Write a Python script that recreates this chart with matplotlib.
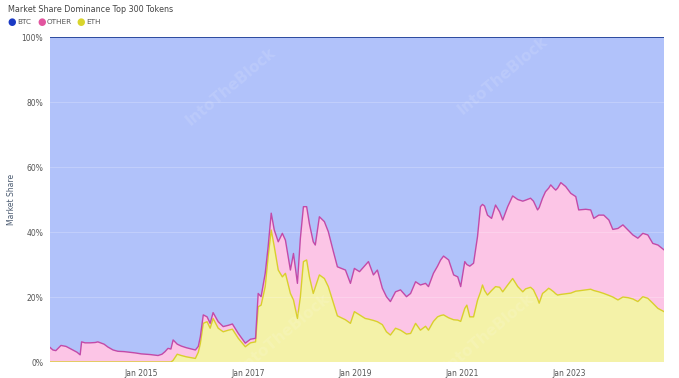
import pandas as pd
import matplotlib
matplotlib.use('Agg')
import matplotlib.pyplot as plt
import matplotlib.dates as mdates

# dates of the read points
dates = [
    '2013-04-17', '2013-05-07', '2013-05-27', '2013-07-01', '2013-08-05', '2013-09-15',
    '2013-10-19', '2013-11-09', '2013-11-19', '2013-12-13', '2014-01-16', '2014-02-20',
    '2014-03-10', '2014-04-21', '2014-05-18', '2014-06-22', '2014-07-25', '2014-09-05',
    '2014-10-16', '2014-11-20', '2015-01-01', '2015-03-01', '2015-04-25', '2015-05-22',
    '2015-06-12', '2015-07-02', '2015-07-22', '2015-08-06', '2015-09-03', '2015-10-01',
    '2015-11-04', '2016-01-05', '2016-01-25', '2016-02-08', '2016-02-28', '2016-03-25',
    '2016-04-15', '2016-05-05', '2016-06-09', '2016-07-13', '2016-08-17', '2016-09-14',
    '2016-10-24', '2016-12-11', '2017-01-15', '2017-02-19', '2017-03-09', '2017-03-29',
    '2017-04-26', '2017-05-16', '2017-06-06', '2017-06-27', '2017-07-24', '2017-08-21',
    '2017-09-11', '2017-10-15', '2017-11-05', '2017-12-02', '2017-12-22', '2018-01-12',
    '2018-02-03', '2018-02-22', '2018-03-20', '2018-04-03', '2018-05-01', '2018-06-04',
    '2018-07-01', '2018-08-05', '2018-09-01', '2018-09-29', '2018-10-26', '2018-11-29',
    '2018-12-26', '2019-01-30', '2019-03-10', '2019-04-01', '2019-05-05', '2019-06-01',
    '2019-07-05', '2019-08-02', '2019-08-29', '2019-10-03', '2019-11-06', '2019-12-17',
    '2020-01-14', '2020-02-17', '2020-03-21', '2020-04-25', '2020-05-15', '2020-06-18',
    '2020-07-16', '2020-08-06', '2020-08-26', '2020-09-30', '2020-11-03', '2020-12-01',
    '2020-12-21', '2021-01-18', '2021-02-01', '2021-02-21', '2021-03-19', '2021-04-15',
    '2021-05-05', '2021-05-19', '2021-06-02', '2021-06-22', '2021-07-20', '2021-08-16',
    '2021-09-13', '2021-10-04', '2021-11-07', '2021-12-11', '2022-01-15', '2022-02-18',
    '2022-03-09', '2022-04-12', '2022-05-02', '2022-05-30', '2022-06-10', '2022-07-03',
    '2022-07-23', '2022-08-14', '2022-08-28', '2022-09-17', '2022-10-01', '2022-10-14',
    '2022-11-05', '2022-12-08', '2023-01-12', '2023-02-15', '2023-03-07', '2023-04-24',
    '2023-05-28', '2023-06-18', '2023-07-22', '2023-08-25', '2023-09-29', '2023-10-26',
    '2023-11-30', '2024-01-03', '2024-02-07', '2024-03-11', '2024-04-14', '2024-05-18',
    '2024-06-21', '2024-07-25', '2024-08-29', '2024-10-10',
]

# ETH + OTHER (top of the pink band), in %
non_btc = [
    4.5, 3.7, 3.5, 5.1, 4.8, 3.8, 3.0, 2.2, 6.2, 5.9, 5.9, 6.0,
    6.2, 5.5, 4.6, 3.7, 3.3, 3.2, 3.0, 2.8, 2.5, 2.3, 2.0, 2.4,
    3.2, 4.2, 4.0, 6.8, 5.5, 4.9, 4.4, 3.7, 4.8, 7.8, 14.5, 13.9,
    11.9, 15.2, 12.4, 10.9, 11.3, 11.7, 8.8, 5.8, 7.0, 7.3, 21.1, 20.1,
    27.3, 35.5, 45.8, 40.6, 37.0, 39.6, 37.5, 28.3, 33.4, 24.2, 38.0, 47.8,
    47.8, 42.5, 37.0, 36.0, 44.7, 43.2, 40.1, 33.9, 29.3, 28.8, 28.3, 24.2,
    28.8, 27.8, 29.8, 30.9, 26.8, 28.3, 22.7, 20.1, 18.6, 21.6, 22.2, 20.1,
    21.1, 24.7, 23.7, 24.2, 23.2, 27.3, 29.5, 31.4, 32.6, 31.4, 26.8, 26.2,
    23.2, 30.9, 30.0, 29.5, 30.4, 38.6, 47.8, 48.5, 48.0, 45.2, 44.2, 48.3,
    46.2, 43.7, 47.8, 51.1, 50.0, 49.5, 49.8, 50.4, 49.5, 46.8, 47.5, 50.4,
    52.4, 53.5, 54.5, 53.5, 52.9, 53.5, 55.2, 54.0, 51.9, 50.9, 46.8, 47.0,
    46.8, 44.2, 45.2, 45.2, 43.7, 40.8, 41.1, 42.2, 40.6, 39.1, 38.1, 39.6,
    39.1, 36.5, 36.0, 34.5,
]

# ETH share, in %
eth = [
    0, 0, 0, 0, 0, 0, 0, 0, 0, 0, 0, 0,
    0, 0, 0, 0, 0, 0, 0, 0, 0, 0, 0, 0,
    0, 0, 0, 0.5, 2.4, 2.0, 1.6, 1.1, 3.0, 5.7, 11.9, 12.4,
    10.4, 13.4, 10.4, 9.3, 9.8, 10.1, 7.3, 4.7, 5.9, 6.2, 17.0, 17.5,
    23.2, 32.4, 40.6, 35.5, 28.3, 26.2, 27.3, 21.1, 19.1, 13.4, 20.0, 30.9,
    31.4, 26.2, 21.1, 23.0, 26.8, 25.7, 23.2, 18.1, 14.2, 13.6, 13.0, 11.9,
    15.5, 14.5, 13.4, 13.2, 12.8, 12.4, 11.5, 9.3, 8.3, 10.4, 9.8, 8.6,
    8.8, 11.9, 9.8, 11.0, 9.8, 12.5, 13.9, 14.3, 14.5, 13.6, 13.0, 12.9,
    12.5, 16.5, 17.5, 13.9, 13.9, 19.0, 21.5, 23.7, 22.0, 20.6, 22.0, 23.2,
    23.0, 21.6, 23.7, 25.7, 23.2, 21.6, 22.5, 23.0, 22.2, 19.5, 18.1, 21.1,
    21.8, 22.7, 22.3, 21.6, 21.0, 20.6, 20.8, 21.0, 21.2, 21.8, 21.9, 22.2,
    22.4, 22.0, 21.6, 21.1, 20.5, 20.0, 19.1, 20.0, 19.8, 19.4, 18.6, 20.1,
    19.6, 18.1, 16.5, 15.5,
]

x_ticks = ['2015-01-01', '2017-01-01', '2019-01-01', '2021-01-01', '2023-01-01']
y_ticks = [0, 20, 40, 60, 80, 100]

df = pd.DataFrame({'date': pd.to_datetime(dates), 'eth': eth, 'top': non_btc})
df['other'] = df['top'] - df['eth']
df['btc'] = 100 - df['top']

fig = plt.figure(figsize=(6.79, 3.78), dpi=100)
ax = fig.add_axes([0.0736, 0.0423, 0.9044, 0.8597])

ax.stackplot(df['date'], df['eth'], df['other'], df['btc'],
             colors=['#f4f2a8', '#fcc5e6', '#b1c2fa'], linewidth=0)
ax.plot(df['date'], df['eth'], color='#d9cf2c', linewidth=1.0)
ax.plot(df['date'], df['top'], color='#c24aa8', linewidth=1.0)
ax.plot(df['date'], [100] * len(df), color='#2c4a9e', linewidth=1.4)

for yv in y_ticks[1:-1]:
    ax.axhline(yv, color='white', linewidth=0.6, alpha=0.25, zorder=1.5)

ax.set_xlim(df['date'].iloc[0], df['date'].iloc[-1])
ax.set_ylim(0, 100)
ax.set_yticks(y_ticks)
ax.set_yticklabels([f'{v}%' for v in y_ticks])
ax.set_xticks(pd.to_datetime(x_ticks))
ax.xaxis.set_major_formatter(mdates.DateFormatter('Jan %Y'))
ax.tick_params(length=0, labelsize=5.5, colors='#555555', pad=5)
for s in ax.spines.values():
    s.set_visible(False)
ax.set_ylabel('Market Share', fontsize=5.5, color='#4a5a70')
ax.yaxis.set_label_coords(-0.055, 0.5)

fig.text(0.012, 0.974, 'Market Share Dominance Top 300 Tokens', fontsize=5.8,
         color='#444444', va='center', ha='left')

legend_items = [('BTC', '#1b3ac4'), ('OTHER', '#e2559f'), ('ETH', '#d9d52c')]
lx = [0.017, 0.061, 0.119]
for (name, col), xpos in zip(legend_items, lx):
    fig.text(xpos, 0.941, '\u25CF', color=col, fontsize=7, va='center', ha='center')
    fig.text(xpos + 0.008, 0.941, name, color='#555555', fontsize=5.2, va='center', ha='left')

# faint watermark
for wx, wy in [(0.34, 0.77), (0.74, 0.8), (0.42, 0.12), (0.72, 0.12)]:
    fig.text(wx, wy, 'IntoTheBlock', fontsize=11, color='white', alpha=0.13,
             rotation=40, ha='center', va='center', fontweight='bold')

fig.savefig('out.png', dpi=100)
